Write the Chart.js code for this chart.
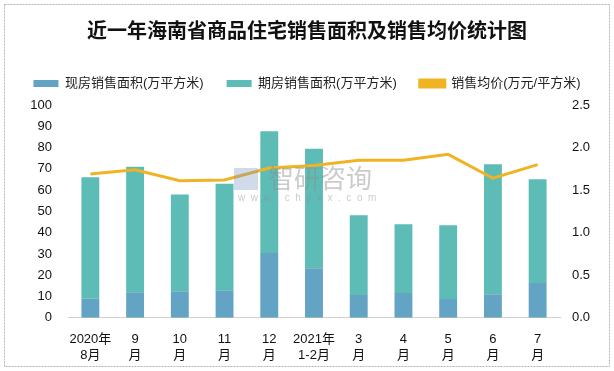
<!DOCTYPE html>
<html>
<head>
<meta charset="utf-8">
<script src="https://cdn.jsdelivr.net/npm/chart.js@4"></script>
<style>
  html, body { margin: 0; padding: 0; background: #fff; }
  #wrap { width: 614px; height: 371px; }
</style>
</head>
<body>
<div id="wrap"><canvas id="chart"></canvas></div>
<script>
const months = [['2020年', '8月'], ['9', '月'], ['10', '月'], ['11', '月'], ['12', '月'], ['2021年', '1-2月'], ['3', '月'], ['4', '月'], ['5', '月'], ['6', '月'], ['7', '月']];
const spotArea = [9, 12, 12.5, 13, 30.4, 23.3, 10.7, 11.6, 8.8, 11.1, 16.3];
const futureArea = [57, 59, 45.5, 50, 57.3, 56.1, 37.5, 32.4, 34.7, 61.1, 48.8];
const avgPrice = [1.69, 1.74, 1.61, 1.62, 1.76, 1.79, 1.85, 1.85, 1.92, 1.64, 1.80];

const fontFamily = "'Liberation Sans', 'Noto Sans CJK SC', sans-serif";

// background, frame and watermark
const frame = {
    id: 'frame',
    beforeDraw(chart) {
        const c = chart.ctx;
        c.save();
        c.fillStyle = '#fff';
        c.fillRect(0, 0, chart.width, chart.height);
        c.strokeStyle = '#b4b4b4';
        c.lineWidth = 1;
        c.setLineDash([2, 1]);
        c.strokeRect(4.5, 4.5, 605, 362);
        c.restore();
    },
    afterDatasetsDraw(chart) {
        const c = chart.ctx;
        c.save();
        c.fillStyle = 'rgba(140, 140, 140, 0.45)';
        c.font = "26px 'Noto Sans CJK SC'";
        c.textBaseline = 'middle';
        c.fillText('智研咨询', 268, 178);
        c.font = "10px 'Liberation Sans'";
        c.fillText('w  w  w  .  c  h  y  x  x  .  c  o  m', 238, 198);
        c.fillStyle = 'rgba(120, 150, 190, 0.35)';
        c.fillRect(234, 168, 24, 22);
        c.restore();
    }
};

// small gap between legend and plot area
const spacer = {
    id: 'spacer',
    beforeInit(chart) {
        Chart.layouts.addBox(chart, {
            position: 'top',
            weight: 500,
            fullSize: true,
            options: {},
            top: 0, left: 0, right: 0, bottom: 0, width: 0, height: 0,
            update(w) { this.width = w; this.height = 5; },
            isHorizontal() { return true; },
            draw() {}
        });
    }
};

new Chart(document.getElementById('chart'), {
    type: 'bar',
    data: {
        labels: months,
        datasets: [
            {
                label: '现房销售面积(万平方米)',
                data: spotArea,
                backgroundColor: '#63a3c3',
                stack: 'area',
                yAxisID: 'y',
                order: 1,
                barPercentage: 0.4,
                categoryPercentage: 1
            },
            {
                label: '期房销售面积(万平方米)',
                data: futureArea,
                backgroundColor: '#5dbdb6',
                stack: 'area',
                yAxisID: 'y',
                order: 1,
                barPercentage: 0.4,
                categoryPercentage: 1
            },
            {
                type: 'line',
                label: '销售均价(万元/平方米)',
                data: avgPrice,
                borderColor: '#f0b323',
                backgroundColor: '#f0b323',
                borderWidth: 3,
                pointRadius: 0,
                tension: 0,
                yAxisID: 'y1',
                order: 0
            }
        ]
    },
    options: {
        responsive: true,
        maintainAspectRatio: false,
        animation: false,
        layout: { padding: { left: 0, right: 0, top: 0, bottom: 2 } },
        plugins: {
            title: {
                display: true,
                text: '近一年海南省商品住宅销售面积及销售均价统计图',
                color: '#111',
                font: { family: "'Noto Sans CJK SC'", size: 20, weight: 'bold' },
                padding: { top: 18, bottom: 12 }
            },
            legend: {
                labels: {
                    boxWidth: 25,
                    boxHeight: 7,
                    padding: 23,
                    color: '#222',
                    font: { family: fontFamily, size: 13 },
                    sort: (a, b) => a.datasetIndex - b.datasetIndex
                }
            },
            tooltip: { enabled: false }
        },
        scales: {
            x: {
                stacked: true,
                grid: { display: false },
                border: { color: '#d0d0d0' },
                ticks: { color: '#111', font: { family: fontFamily, size: 13 }, maxRotation: 0, autoSkip: false, padding: 6 }
            },
            y: {
                stacked: true,
                min: 0,
                max: 100,
                position: 'left',
                grid: { display: false },
                border: { display: false },
                ticks: { stepSize: 10, color: '#111', font: { family: fontFamily, size: 13 }, padding: 8 },
                afterFit(scale) { scale.width = 68; }
            },
            y1: {
                min: 0,
                max: 2.5,
                position: 'right',
                grid: { display: false },
                border: { display: false },
                ticks: { stepSize: 0.5, color: '#111', font: { family: fontFamily, size: 13 }, padding: 4, callback: v => v.toFixed(1) },
                afterFit(scale) { scale.width = 54; }
            }
        }
    },
    plugins: [frame, spacer]
});
</script>
</body>
</html>
